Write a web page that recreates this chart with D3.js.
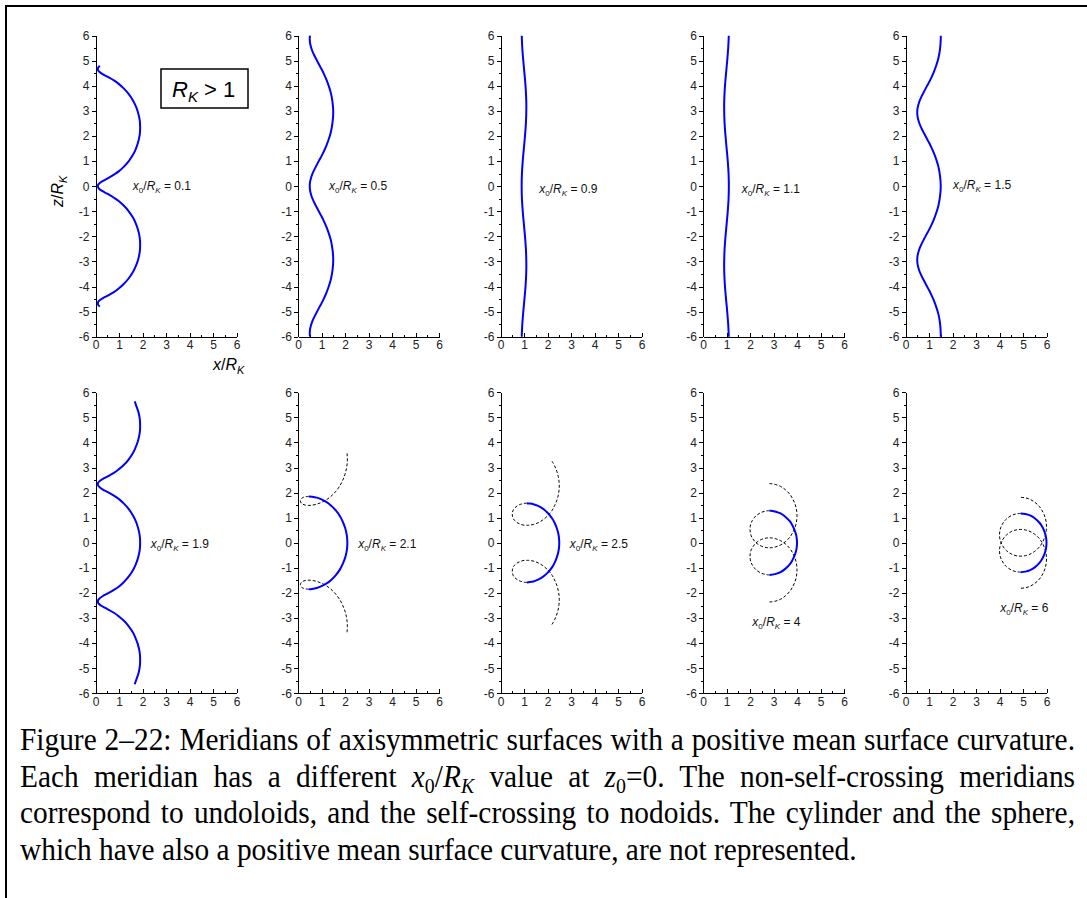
<!DOCTYPE html>
<html lang="en">
<head>
<meta charset="UTF-8">
<title>Meridians of axisymmetric surfaces</title>
<script src="https://d3js.org/d3.v7.min.js"></script>
<style>
    body { margin: 0; background: #fff; }
    svg { display: block; }
    .axis path, .axis line { stroke: #000; stroke-width: 1px; shape-rendering: crispEdges; }
    .axis text { font-family: "Liberation Sans", Arial, sans-serif; font-size: 12px; fill: #222; }
    .meridian { fill: none; stroke: #0000ff; stroke-width: 2px; }
    .branch { fill: none; stroke: #000; stroke-width: 1px; stroke-dasharray: 3,2; }
    .curve-label { font-family: "Liberation Sans", Arial, sans-serif; font-size: 12px; fill: #111; }
    .axis-title { font-family: "Liberation Sans", Arial, sans-serif; font-size: 16px; fill: #000; }
    .caption { font-family: "Liberation Serif", "Times New Roman", serif; font-size: 31px; fill: #000; }
</style>
</head>
<body>
<svg id="chart" width="1087" height="898"></svg>
<script>
// ticks
const xTicks = [0, 1, 2, 3, 4, 5, 6];
const xMinorTicks = [0.5, 1.5, 2.5, 3.5, 4.5, 5.5];
const zTicks = [-6, -5, -4, -3, -2, -1, 0, 1, 2, 3, 4, 5, 6];
const zMinorTicks = [-5.5, -4.5, -3.5, -2.5, -1.5, -0.5, 0.5, 1.5, 2.5, 3.5, 4.5, 5.5];

// x0/RK of each panel
const ratioLabels = ["0.1", "0.5", "0.9", "1.1", "1.5", "1.9", "2.1", "2.5", "4", "6"];

// meridians, [x/RK, z/RK]
const meridian01 = [[0.18,4.80],[0.11,4.72],[0.10,4.67],[0.11,4.62],[0.15,4.57],[0.30,4.47],[0.50,4.37],[0.80,4.21],[1.00,4.07],[1.20,3.90],[1.40,3.69],[1.60,3.41],[1.70,3.22],[1.80,2.97],[1.88,2.64],[1.90,2.34],[1.88,2.04],[1.80,1.71],[1.70,1.45],[1.60,1.26],[1.40,0.98],[1.20,0.77],[1.00,0.60],[0.80,0.47],[0.50,0.30],[0.30,0.20],[0.15,0.10],[0.11,0.05],[0.10,0.00],[0.11,-0.05],[0.15,-0.10],[0.30,-0.20],[0.50,-0.30],[0.80,-0.47],[1.00,-0.60],[1.20,-0.77],[1.40,-0.98],[1.60,-1.26],[1.70,-1.45],[1.80,-1.71],[1.88,-2.04],[1.90,-2.34],[1.88,-2.64],[1.80,-2.97],[1.70,-3.22],[1.60,-3.41],[1.40,-3.69],[1.20,-3.90],[1.00,-4.07],[0.80,-4.21],[0.50,-4.37],[0.30,-4.47],[0.15,-4.57],[0.11,-4.62],[0.10,-4.67],[0.11,-4.72],[0.18,-4.80]];

const meridian05 = [[0.51,6.00],[0.50,5.87],[0.52,5.67],[0.60,5.41],[0.70,5.20],[0.80,5.02],[0.90,4.84],[1.00,4.67],[1.10,4.48],[1.20,4.27],[1.30,4.02],[1.40,3.71],[1.47,3.34],[1.50,2.94],[1.47,2.54],[1.40,2.16],[1.30,1.85],[1.20,1.60],[1.10,1.39],[1.00,1.20],[0.90,1.03],[0.80,0.85],[0.70,0.67],[0.60,0.46],[0.545,0.30],[0.52,0.20],[0.505,0.10],[0.50,0.00],[0.505,-0.10],[0.52,-0.20],[0.545,-0.30],[0.60,-0.46],[0.70,-0.67],[0.80,-0.85],[0.90,-1.03],[1.00,-1.20],[1.10,-1.39],[1.20,-1.60],[1.30,-1.85],[1.40,-2.16],[1.47,-2.54],[1.50,-2.94],[1.47,-3.34],[1.40,-3.71],[1.30,-4.02],[1.20,-4.27],[1.10,-4.48],[1.00,-4.67],[0.90,-4.84],[0.80,-5.02],[0.70,-5.20],[0.60,-5.41],[0.52,-5.67],[0.50,-5.87],[0.51,-6.00]];

const meridian09 = [[0.903,6.0],[0.928,5.5],[0.97,5.0],[1.019,4.5],[1.065,4.0],[1.093,3.5],[1.10,3.13],[1.081,2.5],[1.042,2.0],[0.994,1.5],[0.946,1.0],[0.912,0.5],[0.90,0.0],[0.912,-0.5],[0.946,-1.0],[0.994,-1.5],[1.042,-2.0],[1.081,-2.5],[1.10,-3.13],[1.093,-3.5],[1.065,-4.0],[1.019,-4.5],[0.97,-5.0],[0.928,-5.5],[0.903,-6.0]];

const meridian11 = [[1.097,6.0],[1.072,5.5],[1.03,5.0],[0.981,4.5],[0.935,4.0],[0.907,3.5],[0.90,3.13],[0.919,2.5],[0.958,2.0],[1.006,1.5],[1.054,1.0],[1.088,0.5],[1.10,0.0],[1.088,-0.5],[1.054,-1.0],[1.006,-1.5],[0.958,-2.0],[0.919,-2.5],[0.90,-3.13],[0.907,-3.5],[0.935,-4.0],[0.981,-4.5],[1.03,-5.0],[1.072,-5.5],[1.097,-6.0]];

const meridian15 = [[1.50,6.00],[1.50,5.87],[1.47,5.47],[1.40,5.10],[1.30,4.79],[1.20,4.54],[1.10,4.33],[1.00,4.14],[0.90,3.97],[0.80,3.79],[0.70,3.61],[0.60,3.40],[0.545,3.24],[0.52,3.14],[0.505,3.04],[0.50,2.94],[0.505,2.84],[0.52,2.74],[0.545,2.64],[0.60,2.48],[0.70,2.27],[0.80,2.09],[0.90,1.91],[1.00,1.74],[1.10,1.55],[1.20,1.34],[1.30,1.09],[1.40,0.78],[1.47,0.40],[1.50,0.00],[1.47,-0.40],[1.40,-0.78],[1.30,-1.09],[1.20,-1.34],[1.10,-1.55],[1.00,-1.74],[0.90,-1.91],[0.80,-2.09],[0.70,-2.27],[0.60,-2.48],[0.545,-2.64],[0.52,-2.74],[0.505,-2.84],[0.50,-2.94],[0.505,-3.04],[0.52,-3.14],[0.545,-3.24],[0.60,-3.40],[0.70,-3.61],[0.80,-3.79],[0.90,-3.97],[1.00,-4.14],[1.10,-4.33],[1.20,-4.54],[1.30,-4.79],[1.40,-5.10],[1.47,-5.47],[1.50,-5.87],[1.50,-6.00]];

const meridian19 = [[1.67,5.64],[1.72,5.50],[1.83,5.20],[1.88,4.97],[1.90,4.67],[1.88,4.37],[1.80,4.04],[1.70,3.79],[1.60,3.59],[1.40,3.31],[1.20,3.10],[1.00,2.94],[0.80,2.80],[0.50,2.64],[0.30,2.54],[0.15,2.44],[0.11,2.39],[0.10,2.34],[0.11,2.29],[0.15,2.24],[0.30,2.13],[0.50,2.03],[0.80,1.87],[1.00,1.74],[1.20,1.57],[1.40,1.36],[1.60,1.08],[1.70,0.89],[1.80,0.63],[1.88,0.30],[1.90,0.00],[1.88,-0.30],[1.80,-0.63],[1.70,-0.89],[1.60,-1.08],[1.40,-1.36],[1.20,-1.57],[1.00,-1.74],[0.80,-1.87],[0.50,-2.03],[0.30,-2.13],[0.15,-2.24],[0.11,-2.29],[0.10,-2.34],[0.11,-2.39],[0.15,-2.44],[0.30,-2.54],[0.50,-2.64],[0.80,-2.80],[1.00,-2.94],[1.20,-3.10],[1.40,-3.31],[1.60,-3.59],[1.70,-3.79],[1.80,-4.04],[1.88,-4.37],[1.90,-4.67],[1.88,-4.97],[1.83,-5.20],[1.72,-5.50],[1.67,-5.64]];

// nodoids: solid outer arc plus dashed continuations
const nodoid21Arc = [[0.46,1.85],[0.60,1.84],[0.80,1.80],[1.00,1.73],[1.20,1.63],[1.40,1.49],[1.60,1.30],[1.80,1.04],[1.90,0.85],[2.00,0.61],[2.06,0.39],[2.09,0.20],[2.10,0.00],[2.09,-0.20],[2.06,-0.39],[2.00,-0.61],[1.90,-0.85],[1.80,-1.04],[1.60,-1.30],[1.40,-1.49],[1.20,-1.63],[1.00,-1.73],[0.80,-1.80],[0.60,-1.84],[0.46,-1.85]];
const nodoid21Upper = [[0.46,1.85],[0.30,1.835],[0.20,1.80],[0.15,1.77],[0.11,1.71],[0.10,1.67],[0.11,1.63],[0.15,1.57],[0.20,1.54],[0.30,1.505],[0.46,1.49],[0.60,1.50],[0.80,1.54],[1.00,1.61],[1.20,1.71],[1.40,1.85],[1.60,2.04],[1.80,2.30],[1.90,2.49],[2.00,2.73],[2.06,2.95],[2.09,3.14],[2.10,3.34],[2.09,3.54],[2.08,3.64]];
const nodoid21Lower = [[0.46,-1.85],[0.30,-1.835],[0.20,-1.80],[0.15,-1.77],[0.11,-1.71],[0.10,-1.67],[0.11,-1.63],[0.15,-1.57],[0.20,-1.54],[0.30,-1.505],[0.46,-1.49],[0.60,-1.50],[0.80,-1.54],[1.00,-1.61],[1.20,-1.71],[1.40,-1.85],[1.60,-2.04],[1.80,-2.30],[1.90,-2.49],[2.00,-2.73],[2.06,-2.95],[2.09,-3.14],[2.10,-3.34],[2.09,-3.54],[2.08,-3.64]];

const nodoid25Arc = [[1.12,1.58],[1.20,1.57],[1.40,1.54],[1.60,1.47],[1.80,1.36],[2.00,1.20],[2.20,0.97],[2.30,0.80],[2.40,0.57],[2.46,0.37],[2.49,0.18],[2.50,0.00],[2.49,-0.18],[2.46,-0.37],[2.40,-0.57],[2.30,-0.80],[2.20,-0.97],[2.00,-1.20],[1.80,-1.36],[1.60,-1.47],[1.40,-1.54],[1.20,-1.57],[1.12,-1.58]];
const nodoid25Upper = [[1.12,1.58],[1.00,1.57],[0.80,1.515],[0.70,1.46],[0.60,1.38],[0.55,1.32],[0.51,1.22],[0.50,1.14],[0.51,1.05],[0.55,0.95],[0.60,0.89],[0.70,0.81],[0.80,0.76],[1.00,0.70],[1.12,0.70],[1.20,0.70],[1.40,0.73],[1.60,0.80],[1.80,0.91],[2.00,1.07],[2.20,1.30],[2.30,1.48],[2.40,1.70],[2.46,1.91],[2.49,2.09],[2.50,2.27],[2.49,2.45],[2.46,2.64],[2.40,2.84],[2.30,3.07],[2.20,3.24],[2.15,3.30]];
const nodoid25Lower = [[1.12,-1.58],[1.00,-1.57],[0.80,-1.515],[0.70,-1.46],[0.60,-1.38],[0.55,-1.32],[0.51,-1.22],[0.50,-1.14],[0.51,-1.05],[0.55,-0.95],[0.60,-0.89],[0.70,-0.81],[0.80,-0.76],[1.00,-0.70],[1.12,-0.70],[1.20,-0.70],[1.40,-0.73],[1.60,-0.80],[1.80,-0.91],[2.00,-1.07],[2.20,-1.30],[2.30,-1.48],[2.40,-1.70],[2.46,-1.91],[2.49,-2.09],[2.50,-2.27],[2.49,-2.45],[2.46,-2.64],[2.40,-2.84],[2.30,-3.07],[2.20,-3.24],[2.15,-3.30]];

const nodoid4Arc = [[2.83,1.28],[2.90,1.276],[3.10,1.24],[3.30,1.17],[3.50,1.04],[3.70,0.85],[3.80,0.70],[3.90,0.50],[3.96,0.33],[3.99,0.16],[4.00,0.00],[3.99,-0.16],[3.96,-0.33],[3.90,-0.50],[3.80,-0.70],[3.70,-0.85],[3.50,-1.04],[3.30,-1.17],[3.10,-1.24],[2.90,-1.276],[2.83,-1.28]];
const nodoid4Upper = [[2.83,1.28],[2.70,1.27],[2.50,1.22],[2.30,1.11],[2.20,1.02],[2.10,0.89],[2.05,0.80],[2.01,0.655],[2.00,0.54],[2.01,0.425],[2.05,0.28],[2.10,0.19],[2.20,0.06],[2.30,-0.03],[2.50,-0.14],[2.70,-0.19],[2.83,-0.20],[2.90,-0.196],[3.10,-0.16],[3.30,-0.086],[3.50,0.04],[3.70,0.23],[3.80,0.38],[3.90,0.575],[3.96,0.75],[3.99,0.92],[4.00,1.08],[3.99,1.24],[3.96,1.41],[3.90,1.585],[3.80,1.78],[3.70,1.93],[3.50,2.12],[3.30,2.25],[3.10,2.32],[2.90,2.356],[2.83,2.36]];
const nodoid4Lower = [[2.83,-1.28],[2.70,-1.27],[2.50,-1.22],[2.30,-1.11],[2.20,-1.02],[2.10,-0.89],[2.05,-0.80],[2.01,-0.655],[2.00,-0.54],[2.01,-0.425],[2.05,-0.28],[2.10,-0.19],[2.20,-0.06],[2.30,0.03],[2.50,0.14],[2.70,0.19],[2.83,0.20],[2.90,0.196],[3.10,0.16],[3.30,0.086],[3.50,-0.04],[3.70,-0.23],[3.80,-0.38],[3.90,-0.575],[3.96,-0.75],[3.99,-0.92],[4.00,-1.08],[3.99,-1.24],[3.96,-1.41],[3.90,-1.585],[3.80,-1.78],[3.70,-1.93],[3.50,-2.12],[3.30,-2.25],[3.10,-2.32],[2.90,-2.356],[2.83,-2.36]];

const nodoid6Arc = [[4.90,1.17],[5.10,1.15],[5.30,1.09],[5.50,0.98],[5.70,0.80],[5.80,0.67],[5.90,0.48],[5.96,0.31],[5.99,0.155],[6.00,0.00],[5.99,-0.155],[5.96,-0.31],[5.90,-0.48],[5.80,-0.67],[5.70,-0.80],[5.50,-0.98],[5.30,-1.09],[5.10,-1.15],[4.90,-1.17]];
const nodoid6Upper = [[4.90,1.17],[4.70,1.15],[4.50,1.085],[4.30,0.956],[4.20,0.856],[4.10,0.706],[4.05,0.60],[4.01,0.447],[4.00,0.32],[4.01,0.193],[4.05,0.04],[4.10,-0.066],[4.20,-0.216],[4.30,-0.316],[4.50,-0.445],[4.70,-0.512],[4.90,-0.533],[5.10,-0.513],[5.30,-0.451],[5.50,-0.34],[5.70,-0.164],[5.80,-0.025],[5.90,0.16],[5.96,0.33],[5.99,0.485],[6.00,0.64],[5.99,0.795],[5.96,0.95],[5.90,1.12],[5.80,1.305],[5.70,1.444],[5.50,1.62],[5.30,1.731],[5.10,1.793],[4.90,1.813]];
const nodoid6Lower = [[4.90,-1.17],[4.70,-1.15],[4.50,-1.085],[4.30,-0.956],[4.20,-0.856],[4.10,-0.706],[4.05,-0.60],[4.01,-0.447],[4.00,-0.32],[4.01,-0.193],[4.05,-0.04],[4.10,0.066],[4.20,0.216],[4.30,0.316],[4.50,0.445],[4.70,0.512],[4.90,0.533],[5.10,0.513],[5.30,0.451],[5.50,0.34],[5.70,0.164],[5.80,0.025],[5.90,-0.16],[5.96,-0.33],[5.99,-0.485],[6.00,-0.64],[5.99,-0.795],[5.96,-0.95],[5.90,-1.12],[5.80,-1.305],[5.70,-1.444],[5.50,-1.62],[5.30,-1.731],[5.10,-1.793],[4.90,-1.813]];

// caption text, [string, style]
const captionLines = [
    [["Figure 2\u201322: Meridians of axisymmetric surfaces with a positive mean surface curvature.", ""]],
    [["Each meridian has a different ", ""], ["x", "i"], ["0", "sub"], ["/", ""], ["R", "i"], ["K", "isub"],
     [" value at ", ""], ["z", "i"], ["0", "sub"], ["=0. The non-self-crossing meridians", ""]],
    [["correspond to undoloids, and the self-crossing to nodoids. The cylinder and the sphere,", ""]],
    [["which have also a positive mean surface curvature, are not represented.", ""]]
];

// layout
const panelLeft0 = 95.5, panelStep = 202.5, panelTops = [35.7, 392.3];
const panelW = 141, panelH = 301;
const captionBaselines = [750, 787, 823, 860];

const panels = [
    { row: 0, col: 0, label: ratioLabels[0], at: [1.59, 0.0], solid: meridian01, dashed: [] },
    { row: 0, col: 1, label: ratioLabels[1], at: [1.32, 0.0], solid: meridian05, dashed: [] },
    { row: 0, col: 2, label: ratioLabels[2], at: [1.65, -0.1], solid: meridian09, dashed: [] },
    { row: 0, col: 3, label: ratioLabels[3], at: [1.65, -0.1], solid: meridian11, dashed: [] },
    { row: 0, col: 4, label: ratioLabels[4], at: [2.02, 0.05], solid: meridian15, dashed: [] },
    { row: 1, col: 0, label: ratioLabels[5], at: [2.35, -0.03], solid: meridian19, dashed: [] },
    { row: 1, col: 1, label: ratioLabels[6], at: [2.56, -0.03], solid: nodoid21Arc, dashed: [nodoid21Upper, nodoid21Lower] },
    { row: 1, col: 2, label: ratioLabels[7], at: [2.95, -0.03], solid: nodoid25Arc, dashed: [nodoid25Upper, nodoid25Lower] },
    { row: 1, col: 3, label: ratioLabels[8], at: [2.10, -3.14], solid: nodoid4Arc, dashed: [nodoid4Upper, nodoid4Lower] },
    { row: 1, col: 4, label: ratioLabels[9], at: [4.03, -2.60], solid: nodoid6Arc, dashed: [nodoid6Upper, nodoid6Lower] }
];

const svg = d3.select("#chart");
svg.append("rect").attr("width", 1087).attr("height", 898).attr("fill", "#fff");

// outer frame (only top and left edges are in view)
svg.append("path")
    .attr("d", "M6,898V6H1087")
    .attr("fill", "none")
    .attr("stroke", "#000")
    .attr("stroke-width", 2);

const x = d3.scaleLinear().domain([0, 6]).range([0, panelW]);
const z = d3.scaleLinear().domain([-6, 6]).range([panelH, 0]);

const line = d3.line()
    .x(p => x(p[0]))
    .y(p => z(p[1]))
    .curve(d3.curveCatmullRom.alpha(0.5));

// x0/RK label built from tspans
function ratioText(text, size, subSize, shift, value) {
    text.append("tspan").attr("font-style", "italic").text("x");
    text.append("tspan").attr("font-size", subSize).attr("dy", shift).text("0");
    text.append("tspan").attr("font-size", size).attr("dy", -shift).text("/");
    text.append("tspan").attr("font-style", "italic").text("R");
    text.append("tspan").attr("font-style", "italic").attr("font-size", subSize).attr("dy", shift).text("K");
    text.append("tspan").attr("font-size", size).attr("dy", -shift).text(value);
}

panels.forEach(p => {
    const g = svg.append("g")
        .attr("transform", `translate(${panelLeft0 + p.col * panelStep},${panelTops[p.row]})`);

    // y axis
    g.append("g").attr("class", "axis")
        .call(d3.axisLeft(z).tickValues(zMinorTicks).tickSize(2).tickSizeOuter(0).tickFormat(""));
    g.append("g").attr("class", "axis")
        .call(d3.axisLeft(z).tickValues(zTicks).tickSize(4).tickSizeOuter(0).tickPadding(2).tickFormat(d => String(d)));

    // x axis, ticks point up
    const xg = g.append("g").attr("class", "axis").attr("transform", `translate(0,${panelH})`);
    xg.call(d3.axisBottom(x).tickValues(xMinorTicks).tickSizeInner(-2).tickSizeOuter(0).tickFormat(""));
    const xg2 = g.append("g").attr("class", "axis").attr("transform", `translate(0,${panelH})`);
    xg2.call(d3.axisBottom(x).tickValues(xTicks).tickSizeInner(-4).tickSizeOuter(0).tickPadding(4).tickFormat(d => String(d)));

    // dashed continuation of the nodoids
    g.selectAll(".branch")
        .data(p.dashed)
        .enter().append("path")
        .attr("class", "branch")
        .attr("d", line);

    g.append("path")
        .datum(p.solid)
        .attr("class", "meridian")
        .attr("d", line);

    const t = g.append("text")
        .attr("class", "curve-label")
        .attr("x", x(p.at[0]))
        .attr("y", z(p.at[1]) + 4);
    ratioText(t, 12, 8, 3, " = " + p.label);
});

// axis titles on the first panel
const title = svg.append("g").attr("class", "axis-title");
const xt = title.append("text").attr("x", 213).attr("y", 370);
xt.append("tspan").attr("font-style", "italic").text("x");
xt.append("tspan").text("/");
xt.append("tspan").attr("font-style", "italic").text("R");
xt.append("tspan").attr("font-style", "italic").attr("font-size", 11).attr("dy", 4).text("K");

const zt = title.append("text").attr("transform", "translate(63,207) rotate(-90)");
zt.append("tspan").attr("font-style", "italic").text("z");
zt.append("tspan").text("/");
zt.append("tspan").attr("font-style", "italic").text("R");
zt.append("tspan").attr("font-style", "italic").attr("font-size", 11).attr("dy", 4).text("K");

// RK > 1 box
svg.append("rect")
    .attr("x", 161).attr("y", 69).attr("width", 87).attr("height", 39)
    .attr("fill", "#fff").attr("stroke", "#000").attr("stroke-width", 1.5);
const rk = svg.append("text")
    .attr("x", 172).attr("y", 97)
    .style("font-family", "\"Liberation Sans\", Arial, sans-serif")
    .style("font-size", "22px");
rk.append("tspan").attr("font-style", "italic").text("R");
rk.append("tspan").attr("font-style", "italic").attr("font-size", 15).attr("dy", 5).text("K");
rk.append("tspan").attr("dy", -5).text(" > 1");

// caption
const capLines = captionLines.map(segs => {
    const t = svg.append("text").attr("class", "caption");
    let shift = 0;
    segs.forEach(([str, kind]) => {
        const ts = t.append("tspan").text(str);
        if (kind.includes("i")) ts.attr("font-style", "italic");
        const want = kind.includes("sub") ? 6 : 0;
        if (want !== shift) { ts.attr("dy", want - shift); shift = want; }
        if (kind.includes("sub")) ts.attr("font-size", 21);
    });
    return t;
});
const sx = 837 / capLines[3].node().getComputedTextLength();
capLines.forEach((t, i) => {
    t.attr("transform", `translate(20,${captionBaselines[i]}) scale(${sx},1)`);
    if (i < 3) {
        const L = t.node().getComputedTextLength();
        const spaces = captionLines[i].map(s => s[0]).join("").split(" ").length - 1;
        t.style("word-spacing", ((1055 / sx - L) / spaces) + "px");
    }
});
</script>
</body>
</html>
